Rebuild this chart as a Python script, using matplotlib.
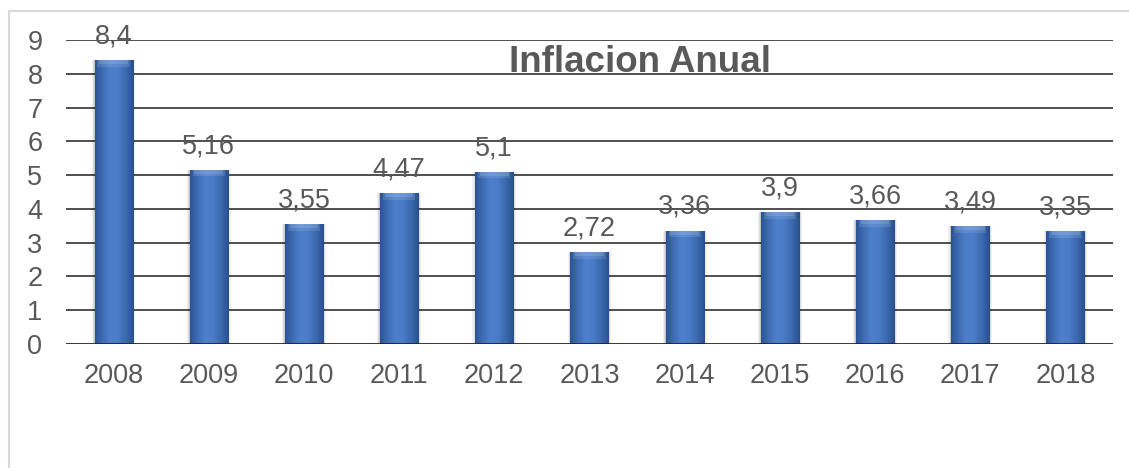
import numpy as np
import matplotlib
matplotlib.use('Agg')
import matplotlib.pyplot as plt
from matplotlib.colors import LinearSegmentedColormap
from matplotlib.lines import Line2D

plt.rcParams['font.family'] = ['Liberation Sans', 'DejaVu Sans']

# Data
years = ['2008', '2009', '2010', '2011', '2012', '2013',
         '2014', '2015', '2016', '2017', '2018']
inflation = [8.4, 5.16, 3.55, 4.47, 5.1, 2.72, 3.36, 3.9, 3.66, 3.49, 3.35]
value_labels = ['8,4', '5,16', '3,55', '4,47', '5,1', '2,72',
                '3,36', '3,9', '3,66', '3,49', '3,35']

text_color = '#595959'
bar_width = 0.4

fig = plt.figure(figsize=(11.29, 4.68), dpi=100)
ax = fig.add_axes([66 / 1129, 124 / 468, 1047 / 1129, 304 / 468])

x = np.arange(len(years))

# Gradient used inside each bar (dark edges, lighter middle)
bar_cmap = LinearSegmentedColormap.from_list(
    'barblue', ['#2B5494', '#3F6DB5', '#4D80CC', '#4A7BC6', '#3C69AE', '#28508C'])
grad = np.linspace(0, 1, 64).reshape(1, -1)

# Soft shadow around bars
for extra, alpha in [(0.06, 0.06), (0.035, 0.08), (0.015, 0.1)]:
    ax.bar(x, inflation, width=bar_width + extra, color='#000000',
           alpha=alpha, linewidth=0, zorder=2)

bars = ax.bar(x, inflation, width=bar_width, color='#3E6DB5',
              linewidth=0, zorder=3)

for rect in bars:
    x0, w, h = rect.get_x(), rect.get_width(), rect.get_height()
    im = ax.imshow(grad, extent=(x0, x0 + w, 0, h), cmap=bar_cmap,
                   aspect='auto', zorder=4, interpolation='bicubic')
    im.set_clip_path(rect)
    # soft light bevel on the top edge
    for hh, ww, a in [(0.2, 0.85, 0.18), (0.12, 0.75, 0.22)]:
        ax.bar(x0 + w / 2, hh, bottom=h - hh, width=w * ww,
               color='#B5CDF0', alpha=a, linewidth=0, zorder=5)

ax.set_xlim(-0.5, len(years) - 0.5)
ax.set_ylim(0, 9)

# Gridlines
for yv in range(1, 10):
    ax.axhline(yv, color='#1f1f1f', linewidth=1.1, zorder=1)
ax.axhline(0, color='#262626', linewidth=2.0, zorder=6)

for s in ax.spines.values():
    s.set_visible(False)

ax.set_yticks(range(0, 10))
ax.set_xticks(x)
ax.set_xticklabels(years)
ax.tick_params(axis='both', length=0, labelsize=19.5, colors=text_color)
ax.tick_params(axis='y', pad=17)
ax.tick_params(axis='x', pad=14)

# Data labels
for xi, v, lab in zip(x, inflation, value_labels):
    ax.annotate(lab, (xi, v), xytext=(0, 12), textcoords='offset points',
                ha='center', va='baseline', fontsize=19.5, color=text_color,
                zorder=7)

# Title
fig.text(640 / 1129, 1 - 72 / 468, 'Inflacion Anual', ha='center',
         va='baseline', fontsize=26.5, fontweight='bold', color=text_color)

# Chart frame (top and left edges only visible)
fig.add_artist(Line2D([8.5 / 1129, 8.5 / 1129], [0, 1 - 10.5 / 468],
                      transform=fig.transFigure, color='#D9D9D9', linewidth=1.5))
fig.add_artist(Line2D([8.5 / 1129, 1], [1 - 10.5 / 468, 1 - 10.5 / 468],
                      transform=fig.transFigure, color='#D9D9D9', linewidth=1.5))

fig.savefig('out.png', dpi=100)
